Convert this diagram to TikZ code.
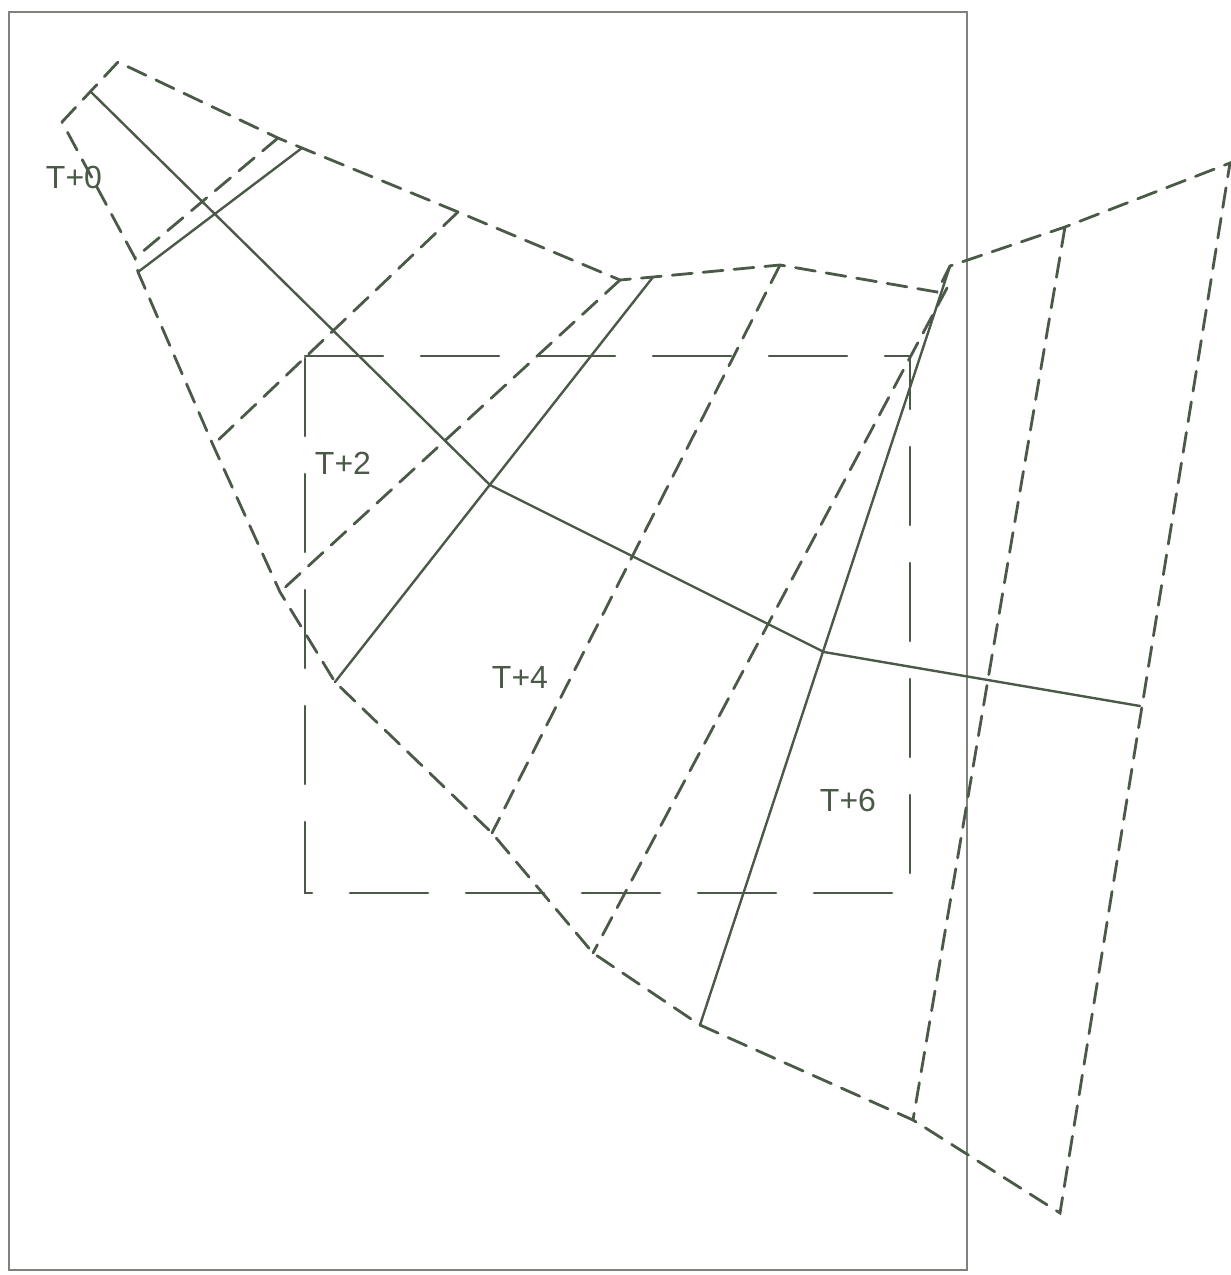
\documentclass[tikz,border=0pt]{standalone}
\usepackage{fontspec}
\setmainfont{Liberation Sans}
\begin{document}
\begin{tikzpicture}[x=0.5pt,y=-0.5pt,
  ink/.style={draw=inkc,line width=1.4pt,line cap=round},
  cone/.style={ink,dash pattern=on 10pt off 5.5pt},
  track/.style={ink,line width=1.2pt},
  frame/.style={draw=framec,line width=0.8pt},
  box/.style={ink,line width=1.3pt,dash pattern=on 39pt off 19pt},
  lbl/.style={text=inkc,font=\fontsize{16pt}{16pt}\selectfont,inner sep=0pt}]
\definecolor{inkc}{HTML}{4B5A48}
\definecolor{framec}{HTML}{7E847C}
\useasboundingbox (0,0) rectangle (1231,1275);
% outer frame
\coordinate (F1) at (9,12);
\coordinate (F2) at (967,1270);
\draw[frame] (F1) rectangle (F2);
% cone points
\coordinate (A0) at (62,122);
\coordinate (B0) at (118,62);
\coordinate (u05) at (278,138);
\coordinate (L05) at (135,258);
\coordinate (U1) at (302,148);
\coordinate (L1) at (138,272);
\coordinate (U15) at (458,212);
\coordinate (L15) at (213,445);
\coordinate (U2) at (620,280);
\coordinate (L2) at (280,592);
\coordinate (U3) at (653,277);
\coordinate (L3) at (335,682);
\coordinate (U35) at (780,265);
\coordinate (L35) at (492,833);
\coordinate (U4a) at (937,292);
\coordinate (U4b) at (947,288);
\coordinate (L4) at (593,953);
\coordinate (AP) at (950,266);
\coordinate (L5) at (700,1025);
\coordinate (U6) at (1065,227);
\coordinate (L6) at (913,1120);
\coordinate (U7) at (1230,163);
\coordinate (L7) at (1060,1213);
% track points
\coordinate (T0) at (92,93);
\coordinate (P2) at (490,485);
\coordinate (P4) at (824,652);
\coordinate (P6) at (1140,706);
% dashed box
\coordinate (R1) at (305,356);
\coordinate (R2) at (910,893);
\draw[box] (R1) -- (R1 -| R2) -- (R2) -- (R1 |- R2) -- cycle;
% cone outline
\draw[cone] (A0) -- (B0) -- (u05) -- (U1) -- (U15) -- (U2) -- (U3) -- (U35) -- (U4a) -- (AP) -- (U6) -- (U7) -- (L7) -- (L6) -- (L5) -- (L4) -- (L35) -- (L3) -- (L2) -- (L15) -- (L1) -- (L05) -- (A0);
% cross lines
\draw[cone] (u05) -- (L05);
\draw[track] (U1) -- (L1);
\draw[cone] (U15) -- (L15);
\draw[cone] (U2) -- (L2);
\draw[track] (U3) -- (L3);
\draw[cone] (U35) -- (L35);
\draw[cone] (U4b) -- (L4);
\draw[track] (AP) -- (L5);
\draw[cone] (U6) -- (L6);
% track
\draw[track] (T0) -- (P2) -- (P4) -- (P6);
% labels
\node[lbl] (t0) at (74,177) {T+0};
\node[lbl] (t2) at (343,463) {T+2};
\node[lbl] (t4) at (520,677) {T+4};
\node[lbl] (t6) at (848,800) {T+6};
\end{tikzpicture}
\end{document}
